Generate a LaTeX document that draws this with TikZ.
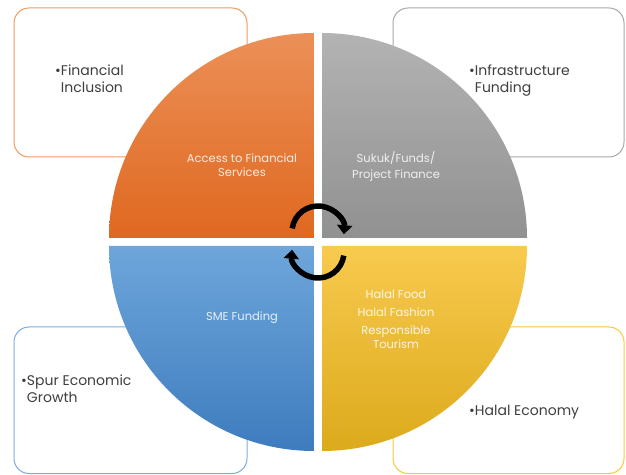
\documentclass[tikz,border=0pt]{standalone}
\usepackage{fontspec}
\setmainfont{Poppins}
\usepackage{tikz}
\usetikzlibrary{arrows.meta,calc,positioning}
\tikzset{>=latex}

\definecolor{orgtop}{HTML}{EC9058}
\definecolor{orgbot}{HTML}{DF6820}
\definecolor{grytop}{HTML}{B3B3B3}
\definecolor{grybot}{HTML}{919191}
\definecolor{blutop}{HTML}{6EA6DB}
\definecolor{blubot}{HTML}{3E7CBE}
\definecolor{yeltop}{HTML}{F8CA4E}
\definecolor{yelbot}{HTML}{DCAA1C}
\definecolor{orgline}{HTML}{F29A5C}
\definecolor{gryline}{HTML}{A8A8A8}
\definecolor{bluline}{HTML}{7EADDC}
\definecolor{yelline}{HTML}{FBC93A}
\definecolor{txtgray}{HTML}{3F3F3F}

\tikzset{
  outerbox/.style={rounded corners=15pt, line width=1pt, fill=white},
  outertext/.style={anchor=north west, inner sep=0pt, text=txtgray,
    font=\fontsize{14}{17}\selectfont, align=left},
  innertext/.style={text=white, text opacity=0.85, align=center,
    font=\fontsize{11.5}{14}\selectfont},
  cyclearrow/.style={line width=5.5pt, -{Triangle[width=15pt,length=9pt]}}
}

\begin{document}
\begin{tikzpicture}[x=1pt,y=1pt]
\useasboundingbox (0,0) rectangle (626,474);

% corner boxes
\draw[outerbox, draw=orgline] (14,317) rectangle (247,466);
\draw[outerbox, draw=gryline] (393,317) rectangle (624,466);
\draw[outerbox, draw=bluline] (14,0.5) rectangle (247,147);
\draw[outerbox, draw=yelline] (393,0.5) rectangle (624,147);

\node[outertext] (finincl) at (55,411) {\begin{tabular}{@{}l@{}l@{}}\textbullet & Financial\\ & Inclusion\end{tabular}};
\node[outertext] (infra) at (469,411) {\begin{tabular}{@{}l@{}l@{}}\textbullet & Infrastructure\\ & Funding\end{tabular}};
\node[outertext] (spur) at (21,101) {\begin{tabular}{@{}l@{}l@{}}\textbullet & Spur Economic\\ & Growth\end{tabular}};
\node[outertext] (halal) at (469,71) {\begin{tabular}{@{}l@{}l@{}}\textbullet & Halal Economy\end{tabular}};

% quarter circles
\begin{scope}
\clip (314,236) -- ++(180:205) arc (180:90:205) -- cycle;
\shade[top color=orgtop, bottom color=orgbot] (109,236) rectangle (314,441);
\end{scope}
\begin{scope}
\clip (322,236) -- ++(90:205) arc (90:0:205) -- cycle;
\shade[top color=grytop, bottom color=grybot] (322,236) rectangle (527,441);
\end{scope}
\begin{scope}
\clip (314,228) -- ++(270:205) arc (270:180:205) -- cycle;
\shade[top color=blutop, bottom color=blubot] (109,23) rectangle (314,228);
\end{scope}
\begin{scope}
\clip (322,228) -- ++(0:205) arc (0:-90:205) -- cycle;
\shade[top color=yeltop, bottom color=yelbot] (322,23) rectangle (527,228);
\end{scope}

\node[innertext] (access) at (242,309) {Access to Financial\\Services};
\node[innertext] (sukuk) at (396,307) {Sukuk/Funds/\\[2pt]Project Finance};
\node[innertext] (sme) at (242,156) {SME Funding};
\node[innertext] (sectors) at (396,155) {Halal Food\\[4pt]Halal Fashion\\[4pt]Responsible\\Tourism};

% cycle arrows
\coordinate (upc) at (318,242);
\coordinate (loc) at (318,222);
\draw[cyclearrow] ($(upc)+(172:26)$) arc (172:-5:26);
\draw[cyclearrow] ($(loc)+(-8:26)$) arc (-8:-185:26);

\end{tikzpicture}
\end{document}
